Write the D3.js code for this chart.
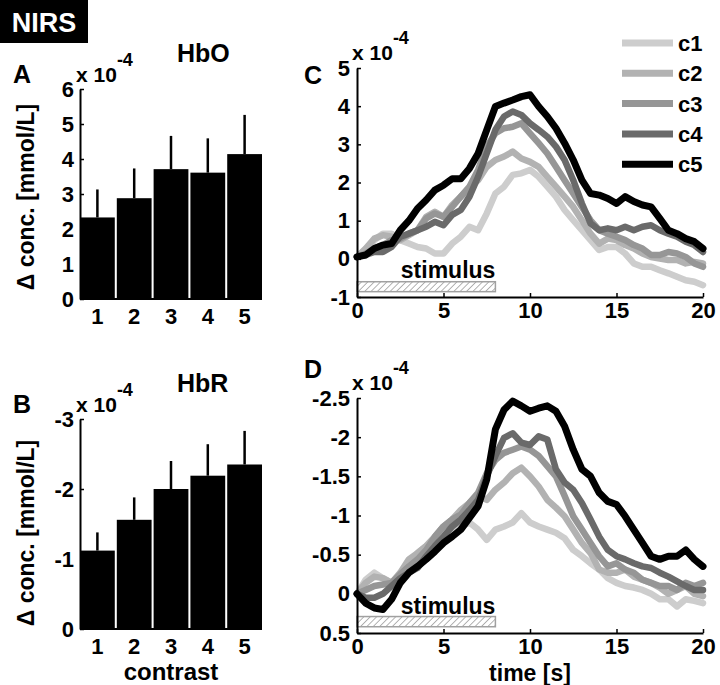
<!DOCTYPE html>
<html>
<head>
<meta charset="utf-8">
<script src="https://cdn.jsdelivr.net/npm/d3@7"></script>
<style>
  body { margin: 0; background: #fff; }
  svg { display: block; font-family: "Liberation Sans", Arial, sans-serif; font-weight: bold; }
</style>
</head>
<body>
<svg id="chart" width="720" height="685"></svg>
<script>
// ---------- DATA ----------
const contrasts = [1, 2, 3, 4, 5];
const hboMean = [2.33, 2.88, 3.71, 3.61, 4.14];
const hboErrTop = [3.13, 3.73, 4.66, 4.59, 5.26];
const hbrMean = [-1.12, -1.56, -2.00, -2.19, -2.35];
const hbrErrTop = [-1.38, -1.88, -2.40, -2.64, -2.83];

const seriesNames = ["c1", "c2", "c3", "c4", "c5"];
const seriesColors = ["#cdcdcd", "#b2b2b2", "#969696", "#6a6a6a", "#000000"];

const time = [0, 0.5, 1, 1.5, 2, 2.5, 3, 3.5, 4, 4.5, 5, 5.5, 6, 6.5, 7, 7.5, 8, 8.5, 9, 9.5,
              10, 10.5, 11, 11.5, 12, 12.5, 13, 13.5, 14, 14.5, 15, 15.5, 16, 16.5, 17, 17.5, 18, 18.5, 19, 19.5, 20];

// HbO time courses (x 10^-4 mmol/L)
const hboC1 = [0.05, 0.18, 0.49, 0.66, 0.66, 0.49, 0.40, 0.31, 0.27, 0.14, 0.14, 0.40, 0.58, 0.84, 0.75, 1.19, 1.71, 1.89, 2.20, 2.24,
               2.33, 2.15, 1.89, 1.63, 1.28, 1.01, 0.75, 0.49, 0.23, 0.31, 0.31, 0.14, -0.12, -0.21, -0.21, -0.30, -0.38, -0.47, -0.56, -0.60, -0.69];
const hboC2 = [0.05, 0.27, 0.53, 0.62, 0.58, 0.49, 0.62, 0.75, 1.10, 1.23, 1.10, 1.41, 1.63, 1.85, 2.06, 2.41, 2.59, 2.68, 2.81, 2.63,
               2.54, 2.41, 2.15, 1.89, 1.63, 1.36, 1.01, 0.66, 0.40, 0.53, 0.49, 0.36, 0.27, 0.14, 0.05, 0.01, -0.03, -0.03, -0.12, -0.08, -0.12];
const hboC3 = [0.05, 0.14, 0.27, 0.36, 0.49, 0.53, 0.66, 0.75, 1.06, 1.19, 1.10, 1.36, 1.63, 1.89, 2.33, 2.94, 3.29, 3.42, 3.46, 3.55,
               3.29, 3.03, 2.76, 2.41, 2.06, 1.71, 1.36, 1.01, 0.75, 0.66, 0.58, 0.49, 0.36, 0.27, 0.10, 0.10, 0.18, 0.14, 0.05, -0.12, -0.21];
const hboC4 = [0.05, 0.10, 0.18, 0.18, 0.31, 0.58, 0.66, 0.75, 0.84, 0.97, 0.88, 1.15, 1.28, 1.63, 2.15, 2.76, 3.38, 3.73, 3.86, 3.77,
               3.55, 3.38, 3.20, 2.94, 2.59, 2.06, 1.45, 0.93, 0.75, 0.80, 0.75, 0.84, 0.75, 0.84, 0.88, 0.75, 0.66, 0.58, 0.45, 0.36, 0.18];
const hboC5 = [0.05, 0.10, 0.27, 0.36, 0.40, 0.75, 1.00, 1.32, 1.54, 1.80, 1.93, 2.10, 2.10, 2.37, 2.76, 3.38, 3.99, 4.08, 4.16, 4.25,
               4.30, 3.99, 3.73, 3.42, 3.03, 2.59, 2.06, 1.71, 1.67, 1.58, 1.45, 1.63, 1.50, 1.41, 1.36, 1.06, 0.75, 0.66, 0.53, 0.45, 0.27];

// HbR time courses (x 10^-4 mmol/L)
const hbrC1 = [0, -0.18, -0.27, -0.20, -0.14, -0.22, -0.35, -0.52, -0.61, -0.65, -0.73, -0.78, -0.86, -0.91, -0.82, -0.69, -0.82, -0.86, -0.91, -1.03,
               -0.91, -0.86, -0.82, -0.78, -0.71, -0.56, -0.48, -0.39, -0.31, -0.20, -0.14, -0.10, -0.08, -0.05, 0, 0.07, 0.07, 0.16, 0.07, 0.09, 0.12];
const hbrC2 = [0, -0.14, -0.22, -0.20, -0.14, -0.27, -0.44, -0.52, -0.61, -0.73, -0.86, -0.95, -1.07, -1.16, -1.25, -1.20, -1.33, -1.42, -1.54, -1.61,
               -1.50, -1.37, -1.20, -1.10, -0.99, -0.82, -0.65, -0.52, -0.31, -0.27, -0.27, -0.31, -0.22, -0.18, -0.14, -0.08, 0, -0.05, -0.10, 0, 0.03];
const hbrC3 = [0, -0.05, -0.10, -0.12, -0.14, -0.25, -0.35, -0.44, -0.56, -0.73, -0.86, -0.95, -1.01, -1.16, -1.29, -1.54, -1.71, -1.80, -1.84, -1.88,
               -1.84, -1.76, -1.63, -1.50, -1.25, -0.99, -0.82, -0.65, -0.48, -0.35, -0.39, -0.31, -0.27, -0.18, -0.14, -0.10, -0.10, -0.05, -0.14, -0.10, -0.14];
const hbrC4 = [0, 0.05, 0.05, 0, -0.10, -0.20, -0.27, -0.33, -0.48, -0.61, -0.73, -0.86, -0.95, -1.07, -1.20, -1.50, -1.76, -1.99, -2.05, -1.93,
               -1.90, -2.01, -1.97, -1.59, -1.42, -1.33, -1.16, -0.95, -0.73, -0.56, -0.48, -0.44, -0.39, -0.35, -0.33, -0.27, -0.22, -0.16, -0.10, -0.05, -0.05];
const hbrC5 = [0, 0.12, 0.18, 0.20, 0.07, -0.14, -0.27, -0.35, -0.44, -0.54, -0.65, -0.73, -0.82, -0.97, -1.12, -1.46, -2.10, -2.35, -2.46, -2.40,
               -2.33, -2.37, -2.40, -2.33, -2.14, -1.84, -1.59, -1.50, -1.29, -1.18, -1.14, -0.99, -0.82, -0.65, -0.48, -0.44, -0.48, -0.48, -0.56, -0.44, -0.35];

const hboTicks = [0, 1, 2, 3, 4, 5, 6];
const hbrTicks = [0, -1, -2, -3];
const cTicks = [-1, 0, 1, 2, 3, 4, 5];
const dTicks = [0.5, 0, -0.5, -1, -1.5, -2, -2.5];
const timeTicks = [0, 5, 10, 15, 20];
const stimulus = [0, 8];

// ---------- DRAW ----------
const svg = d3.select("#chart");
const fmt = v => String(v);

// hatch pattern
const defs = svg.append("defs");
const pat = defs.append("pattern").attr("id", "hatch").attr("patternUnits", "userSpaceOnUse")
  .attr("width", 4.5).attr("height", 4.5).attr("patternTransform", "rotate(45)");
pat.append("rect").attr("width", 4.5).attr("height", 4.5).attr("fill", "#fff");
pat.append("line").attr("x1", 0).attr("y1", 0).attr("x2", 0).attr("y2", 4.5)
  .attr("stroke", "#a0a0a0").attr("stroke-width", 1.6);

function styleAxis(g) {
  g.select(".domain").attr("stroke", "#000").attr("stroke-width", 2);
  g.selectAll(".tick line").attr("stroke", "#000").attr("stroke-width", 1.5);
  g.selectAll(".tick text").attr("fill", "#000").style("font-size", "22px").style("font-weight", "bold")
   .style("font-family", '"Liberation Sans", Arial, sans-serif');
}

// NIRS label
svg.append("rect").attr("x", 0).attr("y", 0).attr("width", 88).attr("height", 43).attr("fill", "#000");
svg.append("text").attr("x", 44).attr("y", 32).attr("text-anchor", "middle").attr("fill", "#fff")
  .style("font-size", "27px").text("NIRS");

function exponent(x, y) {
  const t = svg.append("text").attr("x", x).attr("y", y).style("font-size", "21px");
  t.append("tspan").text("x 10");
  t.append("tspan").attr("dy", -16).style("font-size", "18px").text("-4");
}

function barPanel(cfg) {
  const x = d3.scaleBand().domain(contrasts).range([80, 262]).paddingInner(0.055).paddingOuter(0);
  const y = d3.scaleLinear().domain(cfg.domain).range([cfg.bottom, cfg.top]);
  const g = svg.append("g");
  g.selectAll("rect.bar").data(cfg.mean).join("rect").attr("class", "bar")
    .attr("x", (d, i) => x(contrasts[i]))
    .attr("width", x.bandwidth())
    .attr("y", d => Math.min(y(d), y(0)))
    .attr("height", d => Math.abs(y(0) - y(d)))
    .attr("fill", "#000");
  g.selectAll("line.err").data(cfg.err).join("line").attr("class", "err")
    .attr("x1", (d, i) => x(contrasts[i]) + x.bandwidth() / 2)
    .attr("x2", (d, i) => x(contrasts[i]) + x.bandwidth() / 2)
    .attr("y1", (d, i) => y(cfg.mean[i]))
    .attr("y2", d => y(d))
    .attr("stroke", "#000").attr("stroke-width", 2.5);
  const ya = g.append("g").attr("transform", "translate(80,0)")
    .call(d3.axisLeft(y).tickValues(cfg.ticks).tickFormat(fmt).tickSizeInner(-4).tickSizeOuter(0).tickPadding(6));
  styleAxis(ya);
  const xa = g.append("g").attr("transform", `translate(0,${cfg.bottom})`)
    .call(d3.axisBottom(x).tickSize(0).tickPadding(9));
  styleAxis(xa);
  xa.select(".domain").attr("d", `M80,0H262`);
  svg.append("text").attr("x", 13).attr("y", cfg.top - 6).style("font-size", "25px").text(cfg.letter);
  svg.append("text").attr("x", 177).attr("y", cfg.titleY).style("font-size", "25px").text(cfg.title);
  exponent(76, cfg.top - 7);
  svg.append("text").attr("transform", `translate(34,${cfg.labelY}) rotate(-90)`).attr("text-anchor", "middle")
    .style("font-size", "23px").text("\u0394 conc. [mmol/L]");
}

barPanel({ mean: hboMean, err: hboErrTop, domain: [0, 6], bottom: 299, top: 89, ticks: hboTicks,
  letter: "A", title: "HbO", titleY: 62, labelY: 197 });
barPanel({ mean: hbrMean, err: hbrErrTop, domain: [0, -3], bottom: 629, top: 419, ticks: hbrTicks,
  letter: "B", title: "HbR", titleY: 392, labelY: 533 });

svg.append("text").attr("x", 171).attr("y", 680).attr("text-anchor", "middle").style("font-size", "24px").text("contrast");

function linePanel(cfg) {
  const x = d3.scaleLinear().domain([0, 20]).range([357, 703]);
  const y = d3.scaleLinear().domain(cfg.domain).range([cfg.bottom, cfg.top]);
  const g = svg.append("g");
  g.append("rect").attr("x", x(stimulus[0])).attr("width", x(stimulus[1]) - x(stimulus[0]))
    .attr("y", y(cfg.stimY[0])).attr("height", y(cfg.stimY[1]) - y(cfg.stimY[0]))
    .attr("fill", "url(#hatch)").attr("stroke", "#a0a0a0").attr("stroke-width", 1.5);
  g.append("text").attr("x", x(stimulus[1])).attr("y", cfg.stimTextY).attr("text-anchor", "end")
    .style("font-size", "23px").text("stimulus");
  const line = d3.line().x((d, i) => x(time[i])).y(d => y(d));
  cfg.series.forEach((s, k) => {
    g.append("path").attr("d", line(s)).attr("fill", "none").attr("stroke", seriesColors[k])
      .attr("stroke-width", k === 4 ? 7 : 6.5).attr("stroke-linejoin", "round").attr("stroke-linecap", "round");
  });
  const ya = g.append("g").attr("transform", "translate(357,0)")
    .call(d3.axisLeft(y).tickValues(cfg.ticks).tickFormat(fmt).tickSizeInner(-4).tickSizeOuter(0).tickPadding(7));
  styleAxis(ya);
  const xa = g.append("g").attr("transform", `translate(0,${cfg.bottom})`)
    .call(d3.axisBottom(x).tickValues(timeTicks).tickFormat(fmt).tickSizeInner(-4).tickSizeOuter(0).tickPadding(5));
  styleAxis(xa);
  svg.append("text").attr("x", 304).attr("y", cfg.letterY).style("font-size", "25px").text(cfg.letter);
  exponent(352, cfg.top - 8);
}

linePanel({ series: [hboC1, hboC2, hboC3, hboC4, hboC5], domain: [-1, 5], bottom: 297, top: 68, ticks: cTicks,
  stimY: [-0.6, -0.86], stimTextY: 278, letter: "C", letterY: 84 });
linePanel({ series: [hbrC1, hbrC2, hbrC3, hbrC4, hbrC5], domain: [0.5, -2.5], bottom: 633, top: 398, ticks: dTicks,
  stimY: [0.29, 0.42], stimTextY: 614, letter: "D", letterY: 378 });

svg.append("text").attr("x", 530).attr("y", 681).attr("text-anchor", "middle").style("font-size", "23px").text("time [s]");

// legend
const leg = svg.append("g");
seriesNames.forEach((n, k) => {
  const yy = 43 + k * 30.3;
  leg.append("line").attr("x1", 622).attr("x2", 673).attr("y1", yy).attr("y2", yy)
    .attr("stroke", seriesColors[k]).attr("stroke-width", 7);
  leg.append("text").attr("x", 678).attr("y", yy + 8).style("font-size", "22px").text(n);
});
</script>
</body>
</html>
